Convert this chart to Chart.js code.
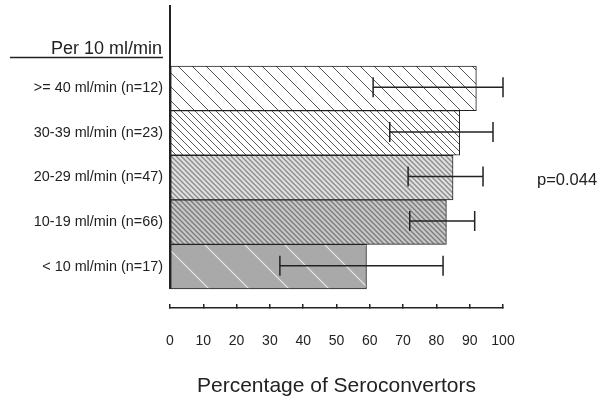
<!DOCTYPE html>
<html>
<head>
<meta charset="utf-8">
<script src="https://cdn.jsdelivr.net/npm/chart.js@4.4.1/dist/chart.umd.min.js"></script>
<style>
  html, body { margin: 0; padding: 0; background: #fff; }
  #wrap { width: 600px; height: 402px; }
</style>
</head>
<body>
<div id="wrap"><canvas id="chartSero"></canvas></div>
<script>
const categories = [
  ">= 40 ml/min (n=12)",
  "30-39 ml/min (n=23)",
  "20-29 ml/min (n=47)",
  "10-19 ml/min (n=66)",
  "< 10 ml/min (n=17)",
];
const percent = [92, 87, 85, 83, 59];
const errLow = [61, 66, 71.5, 72, 33];
const errHigh = [100, 97, 94, 91.5, 82];
const xTicks = [0, 10, 20, 30, 40, 50, 60, 70, 80, 90, 100];
const groupLabel = "Per 10 ml/min";
const pValue = "p=0.044";
const axisTitle = "Percentage of Seroconvertors";

const FONT = "'Liberation Sans', Arial, sans-serif";
const INK = "#222";

// diagonal hatch tiles ("\" direction)
function hatch(size, bg, line, width) {
  const c = document.createElement("canvas");
  c.width = size;
  c.height = size;
  const g = c.getContext("2d");
  g.fillStyle = bg;
  g.fillRect(0, 0, size, size);
  g.strokeStyle = line;
  g.lineWidth = width;
  g.beginPath();
  for (let k = -1; k <= 1; k++) {
    g.moveTo(k * size - 1, -1);
    g.lineTo(k * size + size + 1, size + 1);
  }
  g.stroke();
  return g.createPattern(c, "repeat");
}

const fills = [
  hatch(14, "#ffffff", "#555555", 1),
  hatch(7, "#ffffff", "#5a5a5a", 1),
  hatch(5, "#e0e0e0", "#8c8c8c", 1.4),
  hatch(5, "#c8c8c8", "#7c7c7c", 1.4),
  hatch(40, "#a9a9a9", "#e8e8e8", 1.2),
];

const extras = {
  id: "extras",
  afterDatasetsDraw(chart) {
    const { ctx, scales } = chart;
    const xs = scales.x, ys = scales.y;
    ctx.save();
    ctx.strokeStyle = INK;
    ctx.lineWidth = 1.5;
    errLow.forEach((lo, i) => {
      const y = ys.getPixelForValue(i) - 1;
      const x1 = xs.getPixelForValue(lo);
      const x2 = xs.getPixelForValue(errHigh[i]);
      ctx.beginPath();
      ctx.moveTo(x1, y);
      ctx.lineTo(x2, y);
      ctx.moveTo(x1, y - 10);
      ctx.lineTo(x1, y + 10);
      ctx.moveTo(x2, y - 10);
      ctx.lineTo(x2, y + 10);
      ctx.stroke();
    });
    ctx.restore();
  },
  afterDraw(chart) {
    const { ctx, scales, chartArea } = chart;
    const xs = scales.x, ys = scales.y;
    ctx.save();
    // y axis line, stops at the last bar
    const x0 = xs.getPixelForValue(0);
    ctx.strokeStyle = INK;
    ctx.lineWidth = 2;
    ctx.beginPath();
    ctx.moveTo(x0, chartArea.top);
    ctx.lineTo(x0, ys.getPixelForValue(categories.length - 0.5));
    ctx.stroke();
    // group header with underline
    ctx.fillStyle = INK;
    ctx.font = "18px " + FONT;
    ctx.textAlign = "right";
    ctx.textBaseline = "middle";
    ctx.fillText(groupLabel, 162, 49);
    ctx.lineWidth = 1.5;
    ctx.beginPath();
    ctx.moveTo(10, 57.5);
    ctx.lineTo(163, 57.5);
    ctx.stroke();
    // p value
    ctx.font = "16.5px " + FONT;
    ctx.textAlign = "left";
    ctx.fillText(pValue, 537, 180);
    ctx.restore();
  },
};

new Chart(document.getElementById("chartSero"), {
  type: "bar",
  data: {
    datasets: [
      {
        data: percent.map((v, i) => ({ x: v, y: i })),
        backgroundColor: fills,
        borderColor: INK,
        borderWidth: 1,
        borderSkipped: false,
        categoryPercentage: 1,
        barPercentage: 1,
      },
    ],
  },
  options: {
    indexAxis: "y",
    responsive: true,
    maintainAspectRatio: false,
    animation: false,
    layout: { padding: { top: 5, right: 97, left: 0, bottom: 0 } },
    plugins: { legend: { display: false }, tooltip: { enabled: false } },
    scales: {
      x: {
        type: "linear",
        position: "bottom",
        min: 0,
        max: 100,
        afterBuildTicks: (s) => {
          s.ticks = xTicks.map((v) => ({ value: v }));
        },
        ticks: {
          color: INK,
          font: { family: FONT, size: 14 },
          padding: 29,
          maxRotation: 0,
          autoSkip: false,
        },
        grid: {
          drawOnChartArea: false,
          drawTicks: true,
          tickLength: -4,
          color: INK,
          lineWidth: 1.5,
        },
        border: { display: true, color: INK, width: 1.5 },
        title: {
          display: true,
          text: axisTitle,
          color: INK,
          font: { family: FONT, size: 21 },
          padding: { top: 0, bottom: 3 },
        },
        afterFit: (s) => {
          s.height = 94;
          s.paddingLeft = 0;
          s.paddingRight = 0;
        },
      },
      y: {
        type: "linear",
        reverse: true,
        offset: false,
        min: -1.868,
        max: 4.926,
        afterBuildTicks: (s) => {
          s.ticks = categories.map((_, i) => ({ value: i }));
        },
        ticks: {
          color: INK,
          font: { family: FONT, size: 14.4 },
          padding: 7,
          callback: (v) => categories[v] ?? "",
        },
        grid: { display: false, drawTicks: false, offset: false },
        border: { display: false },
        afterFit: (s) => {
          s.width = 170;
          s.paddingTop = 0;
          s.paddingBottom = 0;
        },
      },
    },
  },
  plugins: [extras],
});
</script>
</body>
</html>
